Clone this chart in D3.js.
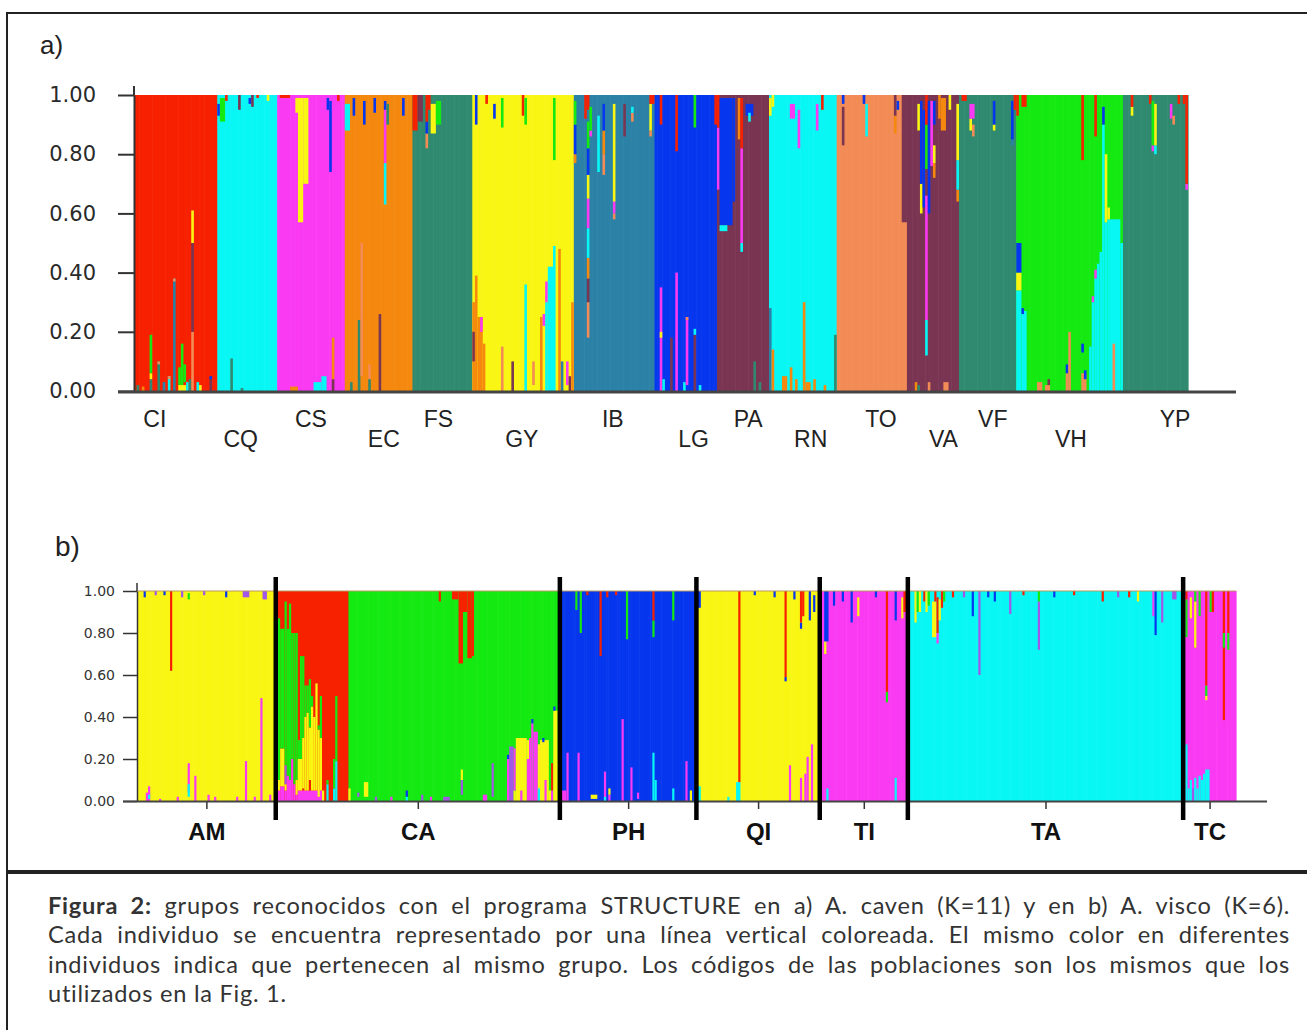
<!DOCTYPE html>
<html>
<head>
<meta charset="utf-8">
<script src="https://cdn.jsdelivr.net/npm/d3@7"></script>
<style>
body { margin: 0; background: #fff; }
svg { display: block; }
</style>
</head>
<body>
<script>
(function(){

//cluster colours used by STRUCTURE
var colours = {
    red: "#f72100", cyan: "#08f7f5", mag: "#fa3af2", orange: "#f5880e",
    teal: "#2f8a6f", yel: "#faf614", steel: "#2b81a6", blue: "#0637ee",
    maroon: "#793552", salmon: "#f28b55", green: "#14ea12", violet: "#a257e8"
};

var qTicks = [0, 0.2, 0.4, 0.6, 0.8, 1.0];

//---- panel a) A. caven, K=11 ----
var aPops   = ["CI","CQ","CS","EC","FS","GY","IB","LG","PA","RN","TO","VA","VF","VH","YP"];
var aCounts = [32, 23, 26, 26, 23, 39, 31, 24, 20, 26, 27, 20, 22, 41, 25];
var aBase   = ["red","cyan","mag","orange","teal","yel","steel","blue","maroon","cyan","salmon","maroon","teal","green","teal"];
//label anchor (individual number along the whole plot)
var aLabelAt = [8, 41, 68, 96, 117, 149, 184, 215, 236, 260, 287, 311, 330, 360, 400];

//admixed parts: [first ind, last ind, cluster, q from, q to]
var aMix = [
  //CI
  [[1,1,"teal",0,0.02],[3,3,"orange",0,0.015],[6,6,"teal",0,0.04],[6,6,"yel",0.04,0.06],[6,6,"green",0.06,0.19],
   [9,9,"teal",0,0.1],[9,9,"salmon",0.09,0.1],[11,11,"steel",0,0.03],[13,13,"cyan",0,0.05],[13,13,"salmon",0.04,0.05],
   [15,15,"steel",0,0.38],[15,15,"salmon",0.37,0.38],[17,17,"green",0.02,0.08],[18,18,"green",0.02,0.16],[19,19,"green",0.03,0.09],
   [17,19,"yel",0,0.02],[20,20,"cyan",0,0.03],[21,21,"teal",0,0.04],[22,22,"salmon",0,0.2],[22,22,"maroon",0.2,0.5],[22,22,"yel",0.5,0.61],
   [24,24,"cyan",0,0.03],[25,25,"yel",0,0.02],[29,29,"maroon",0,0.05],[29,29,"blue",0.04,0.05]],
  //CQ
  [[0,0,"blue",0.93,0.97],[1,2,"green",0.91,0.99],[3,3,"red",0.98,1],[5,5,"teal",0,0.11],[8,8,"maroon",0.95,1],
   [9,9,"teal",0,0.01],[12,12,"blue",0.97,0.99],[13,13,"maroon",0.96,1],[15,15,"red",0.99,1],[19,19,"yel",0.98,1]],
  //CS
  [[1,4,"red",0.99,1],[5,7,"orange",0,0.015],[7,7,"yel",0.94,0.99],[8,9,"yel",0.57,0.99],[10,11,"yel",0.7,0.99],
   [14,16,"cyan",0,0.03],[17,18,"cyan",0,0.05],[19,19,"blue",0.95,0.99],[20,20,"blue",0.74,0.98],
   [21,21,"maroon",0,0.04],[21,21,"orange",0.04,0.18],[23,23,"red",0.98,1]],
  //EC
  [[0,1,"cyan",0.88,0.97],[2,2,"teal",0,0.03],[3,3,"blue",0.93,0.99],[5,5,"teal",0,0.24],[6,6,"salmon",0.05,0.5],
   [7,7,"blue",0.9,0.98],[9,9,"teal",0,0.04],[9,9,"salmon",0.04,0.09],[11,11,"blue",0.94,0.99],[13,13,"maroon",0,0.26],
   [15,15,"cyan",0.63,0.77],[15,15,"mag",0.77,0.95],[15,15,"blue",0.95,0.98],[16,16,"teal",0.9,0.97],[22,22,"blue",0.93,0.99]],
  //FS
  [[0,1,"red",0.88,1],[2,3,"maroon",0.91,1],[5,5,"salmon",0.82,0.87],[5,5,"blue",0.87,0.91],[5,5,"red",0.91,1],
   [6,6,"red",0.95,1],[7,8,"yel",0.87,0.97],[9,10,"green",0.9,0.98]],
  //GY
  [[0,0,"orange",0,0.3],[0,0,"maroon",0.1,0.2],[1,1,"orange",0,0.39],[1,1,"blue",0.9,1],[2,3,"orange",0,0.25],[3,3,"mag",0.2,0.25],
   [4,4,"orange",0,0.16],[5,5,"red",0.97,1],[8,8,"blue",0.92,0.97],[11,11,"green",0.89,0.99],[11,11,"salmon",0,0.15],
   [15,15,"maroon",0,0.1],[19,19,"red",0.93,1],[20,20,"green",0.9,0.99],[20,20,"cyan",0,0.36],[23,23,"salmon",0.02,0.1],
   [26,26,"orange",0,0.25],[27,27,"mag",0.22,0.26],[28,28,"cyan",0,0.3],[28,28,"mag",0.3,0.37],[29,30,"cyan",0,0.42],
   [31,31,"cyan",0,0.49],[31,31,"green",0.78,0.99],[33,33,"orange",0,0.48],[34,34,"steel",0,0.1],[36,36,"mag",0.02,0.1],
   [37,37,"maroon",0,0.05],[38,38,"orange",0,0.3]],
  //IB
  [[0,0,"orange",0.77,0.8],[0,0,"blue",0.8,0.9],[0,0,"green",0.9,0.98],[4,4,"red",0.92,1],
   [5,5,"salmon",0.18,0.3],[5,5,"maroon",0.3,0.38],[5,5,"orange",0.38,0.45],[5,5,"cyan",0.45,0.55],[5,5,"mag",0.55,0.65],
   [5,5,"yel",0.65,0.73],[5,5,"blue",0.73,0.82],[5,5,"green",0.82,0.91],[5,5,"red",0.95,1],[6,6,"mag",0.86,0.88],[6,6,"green",0.88,0.96],
   [9,9,"cyan",0.74,0.93],[11,11,"salmon",0.73,0.8],[11,11,"orange",0.8,0.88],[11,11,"blue",0.88,0.97],
   [15,15,"salmon",0.58,0.6],[15,15,"mag",0.6,0.64],[15,15,"yel",0.64,0.97],[19,19,"maroon",0.86,0.97],
   [22,22,"salmon",0.91,0.94],[22,22,"cyan",0.94,0.96],[29,29,"salmon",0.86,0.88],[29,29,"yel",0.88,0.97],[29,30,"red",0.97,1]],
  //LG
  [[2,2,"mag",0,0.35],[2,2,"yel",0.18,0.2],[2,2,"red",0.9,1],[3,3,"cyan",0,0.04],[6,6,"maroon",0,0.18],[8,8,"mag",0,0.4],
   [8,8,"red",0.81,1],[11,11,"cyan",0,0.03],[12,12,"mag",0.02,0.25],[12,12,"salmon",0.24,0.25],[15,15,"maroon",0,0.19],
   [15,15,"cyan",0.19,0.21],[15,15,"green",0.89,1],[17,17,"cyan",0,0.02],[23,23,"red",0.9,1]],
  //PA
  [[0,0,"mag",0.68,0.89],[0,0,"red",0.89,1],[1,5,"blue",0.56,0.99],[6,6,"blue",0.64,0.99],[1,3,"cyan",0.54,0.56],
   [8,8,"orange",0.85,0.99],[9,9,"cyan",0.47,0.5],[9,9,"mag",0.5,0.82],[9,9,"red",0.82,0.99],[11,13,"blue",0.93,0.97],
   [12,12,"cyan",0.91,0.94],[14,14,"teal",0,0.1],[16,16,"teal",0,0.03]],
  //RN
  [[0,0,"steel",0,0.28],[0,0,"yel",0.93,0.99],[1,1,"orange",0,0.14],[1,1,"yel",0.96,1],[5,6,"orange",0,0.05],
   [8,8,"orange",0,0.08],[8,9,"mag",0.92,0.97],[10,10,"orange",0,0.04],[11,11,"mag",0.82,0.95],[13,13,"orange",0,0.3],
   [14,15,"orange",0,0.03],[17,17,"orange",0,0.04],[18,18,"mag",0.88,0.97],[20,20,"red",0.95,1],[21,21,"orange",0,0.02],
   [25,25,"teal",0,0.19]],
  //TO
  [[2,2,"maroon",0.83,0.96],[2,2,"blue",0.97,1],[10,10,"blue",0.97,1],[11,11,"cyan",0.86,0.97],[22,22,"orange",0.87,0.93],
   [22,22,"maroon",0.93,1],[23,23,"blue",0.95,0.98],[25,26,"maroon",0.57,1]],
  //VA
  [[3,3,"orange",0,0.03],[4,4,"teal",0,0.02],[4,4,"yel",0.88,0.97],[5,5,"yel",0.6,0.7],[5,5,"blue",0.7,0.98],[6,6,"blue",0.62,0.95],
   [7,7,"cyan",0.12,0.24],[7,7,"mag",0.24,0.66],[7,7,"green",0.75,0.9],[7,7,"red",0.9,1],[8,8,"salmon",0,0.03],[8,8,"blue",0.6,0.98],
   [9,9,"mag",0.76,0.98],[10,10,"orange",0.72,0.77],[10,10,"yel",0.77,0.83],[10,10,"blue",0.9,0.98],[12,12,"orange",0.92,1],
   [13,14,"orange",0.88,0.99],[14,15,"salmon",0,0.03],[16,16,"yel",0.95,1],[19,19,"orange",0.64,0.68],[19,19,"cyan",0.68,0.78],
   [19,19,"yel",0.78,0.97]],
  //VF
  [[1,2,"red",0.98,1],[4,4,"yel",0.88,0.92],[4,5,"mag",0.92,0.97],[5,5,"salmon",0.86,0.9],[13,13,"yel",0.88,0.9],
   [13,13,"blue",0.9,0.98],[20,20,"steel",0.83,0.85],[20,20,"blue",0.85,0.98],[21,21,"red",0.95,1]],
  //VH
  [[0,0,"red",0.93,1],[0,1,"cyan",0,0.34],[0,1,"yel",0.34,0.4],[0,1,"blue",0.4,0.5],[2,3,"cyan",0,0.27],[2,2,"blue",0.26,0.28],
   [2,3,"red",0.96,1],[8,9,"salmon",0,0.03],[11,12,"salmon",0,0.02],[12,12,"maroon",0.02,0.04],[19,19,"salmon",0,0.06],
   [19,19,"blue",0.06,0.09],[20,20,"salmon",0,0.2],[25,25,"red",0.78,1],[25,26,"salmon",0,0.06],[25,25,"blue",0.13,0.16],
   [26,26,"blue",0.04,0.07],[28,28,"cyan",0,0.15],[29,29,"cyan",0,0.3],[29,29,"mag",0.3,0.32],[30,30,"cyan",0,0.38],
   [30,30,"mag",0.38,0.41],[30,30,"red",0.86,1],[31,31,"cyan",0,0.43],[32,32,"cyan",0,0.47],[33,33,"cyan",0,0.9],
   [33,33,"blue",0.9,0.96],[34,34,"cyan",0,0.57],[34,34,"yel",0.57,0.8],[35,35,"cyan",0,0.58],[35,35,"yel",0.58,0.62],
   [36,39,"cyan",0,0.58],[37,37,"salmon",0,0.16],[40,40,"cyan",0,0.5]],
  //YP
  [[3,3,"yel",0.93,0.96],[3,3,"red",0.96,1],[10,10,"red",0.97,1],[11,11,"mag",0.81,0.83],[11,11,"green",0.83,0.98],
   [12,12,"cyan",0.8,0.83],[12,12,"yel",0.83,0.97],[18,18,"mag",0.92,0.97],[19,19,"salmon",0.9,0.93],[21,21,"red",0.97,1],
   [23,23,"red",0.97,1],[24,24,"mag",0.68,0.7],[24,24,"red",0.7,1]]
];

//---- panel b) A. visco, K=6 ----
var bPops   = ["AM","CA","PH","QI","TI","TA","TC"];
var bCounts = [63, 129, 62, 56, 40, 125, 24];
var bBase   = ["yel","green","blue","yel","mag","cyan","mag"];

var bMix = [
  //AM
  [[3,3,"blue",0.97,1],[4,4,"mag",0,0.04],[5,5,"mag",0,0.07],[5,5,"cyan",0.01,0.03],[8,8,"violet",0.98,1],[10,10,"mag",0,0.01],
   [12,12,"blue",0.98,1],[15,15,"red",0.62,1],[18,18,"mag",0,0.02],[20,20,"violet",0.97,1],[23,23,"mag",0.04,0.18],
   [23,23,"cyan",0.02,0.08],[23,23,"green",0.96,0.99],[26,26,"mag",0,0.12],[30,30,"violet",0.98,1],[32,32,"mag",0,0.03],
   [35,35,"mag",0,0.02],[40,40,"blue",0.97,1],[45,45,"mag",0,0.02],[48,50,"violet",0.97,1],[49,49,"mag",0,0.19],
   [53,53,"mag",0,0.02],[56,56,"mag",0,0.49],[57,58,"violet",0.96,1],[60,60,"mag",0,0.03]],
  //CA
  [[0,32,"red",0,1],
   [0,1,"mag",0,0.05],[0,1,"yel",0.05,0.1],[0,1,"green",0.1,0.87],
   [2,3,"mag",0,0.07],[2,3,"yel",0.07,0.25],[2,3,"green",0.25,0.82],
   [4,4,"mag",0,0.05],[4,4,"yel",0.05,0.08],[4,4,"violet",0.08,0.17],[4,4,"green",0.17,0.95],
   [5,5,"mag",0,0.12],[5,5,"green",0.12,0.82],[6,6,"mag",0,0.1],[6,6,"green",0.1,0.94],
   [7,7,"mag",0,0.2],[7,7,"green",0.2,0.8],[8,8,"mag",0,0.08],[8,8,"green",0.08,0.8],
   [9,9,"mag",0,0.03],[9,9,"yel",0.03,0.1],[9,9,"green",0.1,0.8],
   [10,20,"mag",0,0.05],[10,10,"yel",0.05,0.2],[10,10,"green",0.2,0.29],[11,11,"yel",0.05,0.2],[11,11,"green",0.2,0.69],
   [12,12,"yel",0.06,0.3],[12,12,"green",0.3,0.69],[13,13,"yel",0.05,0.4],[13,13,"green",0.4,0.55],
   [14,14,"yel",0.05,0.42],[14,14,"green",0.42,0.55],[15,15,"yel",0.1,0.35],[15,15,"green",0.35,0.58],
   [16,16,"yel",0.05,0.45],[16,16,"green",0.45,0.5],[17,17,"yel",0.05,0.4],[18,18,"yel",0.05,0.56],
   [19,19,"yel",0.02,0.34],[19,19,"green",0.34,0.36],[20,20,"yel",0.05,0.3],[20,20,"green",0.3,0.5],
   [21,21,"yel",0,0.05],[23,23,"cyan",0,0.08],[23,23,"green",0.08,0.1],[26,26,"cyan",0,0.06],[26,26,"green",0.06,0.2],
   [27,27,"cyan",0,0.19],[27,27,"green",0.19,0.5],
   [33,33,"yel",0,0.06],[37,37,"violet",0.02,0.04],[40,41,"yel",0.02,0.09],[45,45,"violet",0,0.02],[52,52,"mag",0,0.02],
   [59,59,"cyan",0,0.02],[59,59,"blue",0.02,0.05],[66,66,"violet",0,0.03],[70,70,"mag",0,0.02],[74,74,"red",0.95,1],
   [76,78,"violet",0,0.02],[80,82,"red",0.96,1],[83,84,"red",0.655,1],[84,84,"violet",0.03,0.1],[84,84,"yel",0.1,0.15],
   [85,86,"red",0.9,1],[87,88,"red",0.68,1],[89,89,"red",0.69,1],[94,95,"mag",0,0.03],[98,98,"violet",0.02,0.18],
   [105,105,"mag",0,0.2],[105,105,"blue",0.2,0.22],[106,107,"violet",0,0.26],[108,108,"yel",0,0.05],[108,108,"mag",0.05,0.25],
   [109,113,"yel",0,0.3],[111,111,"mag",0,0.05],[114,114,"mag",0,0.2],[114,114,"yel",0.2,0.29],[115,115,"mag",0,0.3],
   [116,116,"mag",0,0.37],[116,116,"blue",0.37,0.39],[117,118,"mag",0,0.33],[119,119,"yel",0,0.27],[119,119,"cyan",0,0.06],
   [120,123,"yel",0,0.29],[121,121,"blue",0.28,0.3],[122,122,"mag",0,0.1],[124,124,"yel",0,0.05],[125,125,"mag",0,0.05],
   [125,125,"red",0.05,0.18],[126,127,"yel",0,0.43],[126,126,"blue",0.43,0.45],[128,128,"yel",0,0.2]],
  //PH
  [[0,0,"mag",0,0.03],[1,2,"mag",0,0.05],[3,3,"mag",0,0.23],[7,7,"green",0.91,1],[8,8,"mag",0,0.23],[9,9,"green",0.8,1],
   [12,12,"red",0.98,1],[14,16,"yel",0.01,0.03],[18,18,"red",0.69,1],[20,20,"mag",0,0.14],[20,20,"cyan",0,0.02],
   [21,21,"red",0.97,1],[22,22,"mag",0,0.03],[22,22,"yel",0.03,0.06],[25,25,"red",0.98,1],[28,28,"mag",0,0.39],
   [30,30,"green",0.77,1],[32,32,"mag",0,0.16],[35,35,"mag",0.01,0.04],[42,42,"cyan",0,0.23],[42,42,"green",0.78,0.86],
   [42,42,"red",0.86,1],[43,43,"cyan",0,0.1],[51,51,"cyan",0,0.06],[51,51,"green",0.86,1],[57,57,"mag",0,0.19],
   [59,59,"yel",0,0.05]],
  //QI
  [[0,1,"cyan",0,0.07],[0,1,"blue",0.92,1],[14,14,"cyan",0,0.02],[18,19,"cyan",0,0.09],[19,19,"red",0.09,1],
   [26,26,"blue",0.98,1],[35,35,"blue",0.97,1],[40,40,"blue",0.57,0.59],[40,40,"red",0.59,1],[42,42,"mag",0,0.17],
   [44,44,"blue",0.96,1],[47,47,"mag",0,0.11],[47,47,"blue",0.82,0.85],[47,47,"red",0.85,1],[48,48,"red",0.88,1],
   [49,49,"mag",0,0.13],[50,50,"mag",0,0.21],[51,51,"blue",0.86,1],[52,52,"mag",0,0.27],[53,53,"blue",0.9,0.98]],
  //TI
  [[2,2,"yel",0.7,0.76],[2,3,"blue",0.76,1],[3,3,"cyan",0,0.06],[6,6,"blue",0.93,1],[10,10,"blue",0.95,1],
   [14,14,"blue",0.85,1],[17,17,"yel",0.88,0.97],[25,25,"blue",0.97,1],[30,30,"green",0.47,0.52],[30,30,"red",0.52,1],
   [34,34,"cyan",0,0.11],[34,34,"blue",0.86,1],[37,37,"yel",0.87,0.97],[38,39,"red",0.9,1]],
  //TA
  [[0,0,"violet",0,0.3],[0,0,"green",0.3,0.7],[0,0,"red",0.7,1],[3,3,"yel",0.85,1],[4,4,"green",0.9,1],[5,5,"yel",0.9,1],
   [7,7,"red",0.95,1],[8,8,"yel",0.9,1],[9,9,"green",0.93,1],[11,12,"yel",0.78,0.95],[12,12,"red",0.95,1],
   [13,13,"mag",0.75,0.8],[13,13,"red",0.8,0.97],[14,14,"yel",0.86,0.96],[15,15,"red",0.92,1],[16,16,"green",0.95,1],
   [20,20,"red",0.97,1],[25,25,"violet",0.97,1],[29,29,"blue",0.88,1],[32,32,"violet",0.6,1],[36,36,"blue",0.97,1],
   [39,39,"blue",0.95,1],[46,46,"violet",0.89,1],[52,52,"red",0.98,1],[59,59,"violet",0.72,0.95],[59,59,"green",0.95,1],
   [66,66,"blue",0.97,1],[75,75,"red",0.98,1],[88,88,"red",0.95,1],[95,95,"violet",0.97,1],[100,100,"red",0.97,1],
   [104,104,"yel",0.95,1],[111,111,"mag",0.88,1],[112,112,"blue",0.79,1],[115,115,"violet",0.85,1],[120,121,"violet",0.96,1]],
  //TC
  [[0,0,"cyan",0,0.1],[1,1,"cyan",0,0.27],[1,1,"green",0.78,0.96],[1,1,"red",0.96,1],[2,2,"cyan",0,0.06],[3,3,"cyan",0,0.1],
   [3,3,"yel",0.87,0.97],[4,4,"violet",0,0.06],[5,5,"cyan",0,0.11],[5,5,"yel",0.73,0.95],[5,5,"green",0.95,1],
   [6,6,"cyan",0,0.06],[7,7,"cyan",0,0.12],[7,7,"green",0.88,1],[8,8,"cyan",0,0.1],[9,9,"cyan",0,0.13],[10,11,"cyan",0,0.15],
   [10,10,"yel",0.48,0.5],[10,10,"green",0.5,0.55],[10,10,"red",0.55,1],[12,12,"green",0.9,1],[13,13,"red",0.9,1],
   [18,18,"red",0.385,1],[18,18,"green",0.73,0.8],[20,20,"green",0.72,0.8],[20,20,"red",0.8,1]]
];

var captionLines = [
    ["Figura 2:", " grupos reconocidos con el programa STRUCTURE en a) A. caven (K=11) y en b) A. visco (K=6)."],
    ["", "Cada individuo se encuentra representado por una línea vertical coloreada. El mismo color en diferentes"],
    ["", "individuos indica que pertenecen al mismo grupo. Los códigos de las poblaciones son los mismos que los"],
    ["", "utilizados en la Fig. 1."]
];

var svg = d3.select("body").append("svg")
    .attr("width", 1307)
    .attr("height", 1030);

//figure frame
svg.append("path")
    .attr("d", "M7,1030V13H1307")
    .attr("fill", "none")
    .attr("stroke", "#222")
    .attr("stroke-width", 2);
svg.append("line")
    .attr("x1", 7).attr("x2", 1307)
    .attr("y1", 872).attr("y2", 872)
    .attr("stroke", "#222")
    .attr("stroke-width", 4);

//build the stacked bars of one panel
function drawBars(g, pops, counts, base, mix, x, y){
    var starts = Array.from(d3.cumsum([0].concat(counts))).slice(0, -1);
    var bars = [], parts = [];
    pops.forEach(function(p, i){
        d3.range(counts[i]).forEach(function(j){
            bars.push({ind: starts[i] + j, k: base[i]});
        });
        mix[i].forEach(function(m){
            parts.push({i0: starts[i] + m[0], i1: starts[i] + m[1], k: m[2], lo: m[3], hi: m[4]});
        });
    });

    g.append("g").selectAll("rect")
        .data(bars)
        .enter()
        .append("rect")
        .attr("x", function(d){ return x(d.ind); })
        .attr("width", function(d){ return x(d.ind + 1) - x(d.ind) + 0.6; })
        .attr("y", y(1))
        .attr("height", y(0) - y(1))
        .attr("fill", function(d){ return colours[d.k]; });

    g.append("g").selectAll("rect")
        .data(parts)
        .enter()
        .append("rect")
        .attr("x", function(d){ return x(d.i0); })
        .attr("width", function(d){ return x(d.i1 + 1) - x(d.i0); })
        .attr("y", function(d){ return y(d.hi); })
        .attr("height", function(d){ return y(d.lo) - y(d.hi); })
        .attr("fill", function(d){ return colours[d.k]; });

    return starts;
}

//---------- panel a ----------
var aTotal = d3.sum(aCounts);
var xa = d3.scaleLinear().domain([0, aTotal]).range([134, 1188]);
var ya = d3.scaleLinear().domain([0, 1]).range([391, 95]);
var ga = svg.append("g");

ga.append("text")
    .attr("x", 40).attr("y", 54)
    .style("font", "26px 'Liberation Sans', Arial, sans-serif")
    .attr("fill", "#222")
    .text("a)");

var aStarts = drawBars(ga, aPops, aCounts, aBase, aMix, xa, ya);

var aAxis = ga.append("g")
    .attr("transform", "translate(134,0)")
    .call(d3.axisLeft(ya).tickValues(qTicks).tickFormat(d3.format(".2f")).tickSize(16).tickSizeOuter(0).tickPadding(22));
aAxis.selectAll("line, path").attr("stroke", "#333").attr("stroke-width", 2);
aAxis.selectAll("text")
    .attr("fill", "#2a2a2a")
    .style("font", "21px 'DejaVu Sans', sans-serif");
ga.append("line")
    .attr("x1", 134).attr("x2", 134)
    .attr("y1", 86).attr("y2", ya(1))
    .attr("stroke", "#333").attr("stroke-width", 2);
ga.append("line")
    .attr("x1", 118).attr("x2", 1236)
    .attr("y1", ya(0) + 1).attr("y2", ya(0) + 1)
    .attr("stroke", "#444").attr("stroke-width", 3);

ga.selectAll(".poplab")
    .data(aPops)
    .enter()
    .append("text")
    .attr("class", "poplab")
    .attr("x", function(d, i){ return xa(aLabelAt[i]); })
    .attr("y", function(d, i){ return i % 2 === 0 ? 427 : 447; })
    .attr("text-anchor", "middle")
    .attr("fill", "#222")
    .style("font", "23px 'Liberation Sans', Arial, sans-serif")
    .text(function(d){ return d; });

//---------- panel b ----------
var bTotal = d3.sum(bCounts);
var xb = d3.scaleLinear().domain([0, bTotal]).range([137, 1236]);
var yb = d3.scaleLinear().domain([0, 1]).range([801, 591]);
var gb = svg.append("g");

gb.append("text")
    .attr("x", 55).attr("y", 556)
    .style("font", "28px 'Liberation Sans', Arial, sans-serif")
    .attr("fill", "#222")
    .text("b)");

var bStarts = drawBars(gb, bPops, bCounts, bBase, bMix, xb, yb);

//thin line along the top of the bars
gb.append("line")
    .attr("x1", xb(0)).attr("x2", xb(bTotal))
    .attr("y1", yb(1)).attr("y2", yb(1))
    .attr("stroke", "#b89a62").attr("stroke-width", 1);

var bAxis = gb.append("g")
    .attr("transform", "translate(137,0)")
    .call(d3.axisLeft(yb).tickValues(qTicks).tickFormat(d3.format(".2f")).tickSize(14).tickSizeOuter(0).tickPadding(8));
bAxis.selectAll("line, path").attr("stroke", "#333").attr("stroke-width", 1.5);
bAxis.selectAll("text")
    .attr("fill", "#333")
    .style("font", "14px 'DejaVu Sans', sans-serif");
gb.append("line")
    .attr("x1", 137).attr("x2", 137)
    .attr("y1", 583).attr("y2", yb(1))
    .attr("stroke", "#333").attr("stroke-width", 1.5);
gb.append("line")
    .attr("x1", 123).attr("x2", 1267)
    .attr("y1", yb(0) + 0.5).attr("y2", yb(0) + 0.5)
    .attr("stroke", "#444").attr("stroke-width", 2);

//population ticks and names at the centre of each group
var bCentres = bPops.map(function(p, i){ return bStarts[i] + bCounts[i] / 2; });
var bxAxis = gb.append("g")
    .attr("transform", "translate(0," + (yb(0) + 1) + ")")
    .call(d3.axisBottom(xb).tickValues(bCentres)
        .tickFormat(function(d, i){ return bPops[i]; })
        .tickSize(7).tickPadding(14));
bxAxis.select(".domain").remove();
bxAxis.selectAll("line").attr("stroke", "#333").attr("stroke-width", 1.5);
bxAxis.selectAll("text")
    .attr("fill", "#111")
    .style("font", "bold 24px 'Liberation Sans', Arial, sans-serif");

//thick separators between groups
gb.selectAll(".sep")
    .data(bStarts.slice(1))
    .enter()
    .append("line")
    .attr("class", "sep")
    .attr("x1", function(d){ return xb(d); })
    .attr("x2", function(d){ return xb(d); })
    .attr("y1", 577).attr("y2", 820)
    .attr("stroke", "#000")
    .attr("stroke-width", 4.5);

//---------- caption ----------
//slight letter spacing, then justify lines 1-3 by word spacing
var capLeft = 48, capRight = 1290, capSize = 23.6;
var cap = svg.append("g");
captionLines.forEach(function(line, i){
    var t = cap.append("text")
        .attr("x", capLeft)
        .attr("y", 914 + i * 29.3)
        .attr("fill", "#333")
        .style("font-family", "'Lato', 'Open Sans', sans-serif")
        .style("font-size", capSize + "px")
        .style("letter-spacing", "0.75px");
    if (line[0]) {
        t.append("tspan").attr("font-weight", "bold").text(line[0]);
    }
    t.append("tspan").text(line[1]);
    if (i < 3) {
        var w = t.node().getComputedTextLength();
        var gaps = (line[0] + line[1]).split(" ").length - 1;
        t.style("word-spacing", Math.max(0, (capRight - capLeft - w) / gaps) + "px");
    }
});

})();
</script>
</body>
</html>
